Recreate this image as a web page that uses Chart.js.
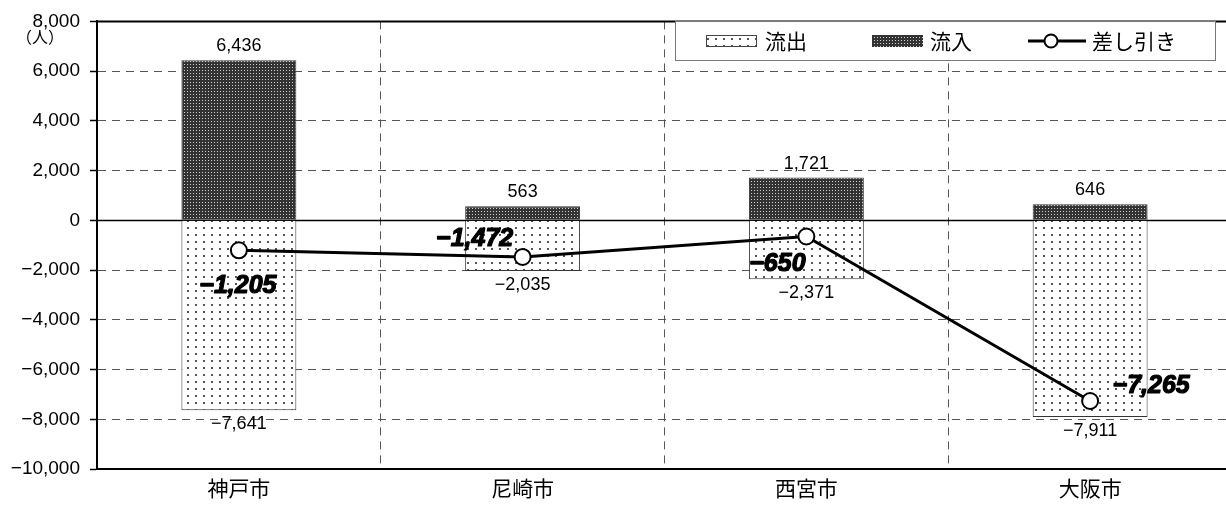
<!DOCTYPE html>
<html>
<head>
<meta charset="utf-8">
<script src="https://cdn.jsdelivr.net/npm/chart.js@4/dist/chart.umd.min.js"></script>
<style>
  html, body { margin: 0; overflow: hidden; background: #fff; width: 1226px; height: 509px; }
  #clip { width: 1226px; height: 509px; overflow: hidden; position: relative; }
  #wrap { width: 1242px; height: 509px; position: absolute; left: 0; top: 0; }
</style>
</head>
<body>
<div id="clip"><div id="wrap"><canvas id="grafico" width="1242" height="509"></canvas></div></div>
<script>
// Datos
const ciudades = ["神戸市", "尼崎市", "西宮市", "大阪市"];
const salida = [-7641, -2035, -2371, -7911];   // 流出
const entrada = [6436, 563, 1721, 646];        // 流入
const neto = [-1205, -1472, -650, -7265];      // 差し引き
const nombres = ["流出", "流入", "差し引き"];
const yMin = -10000, yMax = 8000, yPaso = 2000;

// posiciones de las etiquetas de la línea (desplazamiento respecto al punto)
const offsetNeto = [[-1, 36], [-48, -18], [-29, 28], [61, -15]];

const fuenteNum = "'Liberation Sans', Arial, sans-serif";
const fuenteJp = "'Noto Sans CJK JP', sans-serif";

function fmt(v) {
  const s = Math.abs(v).toLocaleString("en-US");
  return v < 0 ? "\u2212" + s : s;
}

// Patrones de relleno
function patronSalida() {
  const c = document.createElement("canvas");
  c.width = 8; c.height = 7;
  const g = c.getContext("2d");
  g.fillStyle = "#fff"; g.fillRect(0, 0, 8, 7);
  g.fillStyle = "#555";
  g.fillRect(3, 3, 2, 2);
  return g.createPattern(c, "repeat");
}
function patronEntrada() {
  const c = document.createElement("canvas");
  c.width = 3; c.height = 3;
  const g = c.getContext("2d");
  g.fillStyle = "#333"; g.fillRect(0, 0, 3, 3);
  g.fillStyle = "#d0d0d0"; g.fillRect(1, 1, 1, 1);
  return g.createPattern(c, "repeat");
}
const pSalida = patronSalida();
const pEntrada = patronEntrada();

// Plugin: línea cero, borde superior, etiquetas y leyenda
const extras = {
  id: "extras",
  beforeDatasetsDraw(chart) {
    const { ctx, chartArea: a, scales: { y } } = chart;
    const y0 = Math.round(y.getPixelForValue(0)) + 0.5;
    ctx.save();
    ctx.strokeStyle = "#000"; ctx.lineWidth = 1.5;
    ctx.beginPath(); ctx.moveTo(a.left, y0); ctx.lineTo(a.right, y0); ctx.stroke();
    ctx.restore();
  },
  afterDatasetsDraw(chart) {
    const { ctx, chartArea: a } = chart;
    ctx.save();
    // borde superior
    ctx.strokeStyle = "#000"; ctx.lineWidth = 2;
    ctx.beginPath(); ctx.moveTo(a.left, a.top); ctx.lineTo(a.right, a.top); ctx.stroke();

    ctx.fillStyle = "#000";
    ctx.textAlign = "center"; ctx.textBaseline = "middle";
    ctx.font = "18px " + fuenteNum;
    chart.getDatasetMeta(1).data.forEach((el, i) => {
      ctx.fillText(fmt(entrada[i]), el.x, el.y - 14);
    });
    chart.getDatasetMeta(0).data.forEach((el, i) => {
      ctx.fillText(fmt(salida[i]), el.x, el.y + 14);
    });
    ctx.font = "italic bold 25px " + fuenteNum;
    ctx.strokeStyle = "#000"; ctx.lineWidth = 1.2; ctx.lineJoin = "round";
    chart.getDatasetMeta(2).data.forEach((el, i) => {
      const tx = el.x + offsetNeto[i][0], ty = el.y + offsetNeto[i][1];
      ctx.fillText(fmt(neto[i]), tx, ty);
      ctx.strokeText(fmt(neto[i]), tx, ty);
    });

    // unidad
    ctx.font = "16px " + fuenteJp;
    ctx.fillText("（人）", 40, 37);
    ctx.restore();
  },
  afterDraw(chart) {
    const { ctx } = chart;
    ctx.save();
    // leyenda
    ctx.fillStyle = "#fff";
    ctx.fillRect(675, 21, 540, 39);
    ctx.strokeStyle = "#777"; ctx.lineWidth = 1;
    ctx.strokeRect(675.5, 21.5, 540, 39);

    ctx.fillStyle = pSalida;
    ctx.fillRect(706, 35, 51, 12);
    ctx.strokeStyle = "#444";
    ctx.strokeRect(706.5, 35.5, 50, 11);
    ctx.fillStyle = pEntrada;
    ctx.fillRect(872, 35, 51, 12);

    ctx.strokeStyle = "#000"; ctx.lineWidth = 3;
    ctx.beginPath(); ctx.moveTo(1028, 41); ctx.lineTo(1086, 41); ctx.stroke();
    ctx.lineWidth = 2; ctx.fillStyle = "#fff";
    ctx.beginPath(); ctx.arc(1051, 41, 6.5, 0, Math.PI * 2); ctx.fill(); ctx.stroke();

    ctx.fillStyle = "#000";
    ctx.font = "21px " + fuenteJp;
    ctx.textAlign = "left"; ctx.textBaseline = "middle";
    ctx.fillText(nombres[0], 765, 41);
    ctx.fillText(nombres[1], 930, 41);
    ctx.fillText(nombres[2], 1092, 41);
    ctx.restore();
  }
};

const ctxGrafico = document.getElementById("grafico").getContext("2d");
new Chart(ctxGrafico, {
  data: {
    labels: ciudades,
    datasets: [
      {
        type: "bar", label: nombres[0], data: salida,
        backgroundColor: pSalida, borderColor: "#333", borderWidth: 1,
        grouped: false, barPercentage: 1, categoryPercentage: 0.405, order: 2
      },
      {
        type: "bar", label: nombres[1], data: entrada,
        backgroundColor: pEntrada, borderColor: "#333", borderWidth: 1,
        grouped: false, barPercentage: 1, categoryPercentage: 0.405, order: 2
      },
      {
        type: "line", label: nombres[2], data: neto,
        borderColor: "#000", borderWidth: 3, tension: 0,
        pointRadius: 8, pointBorderWidth: 2, pointBackgroundColor: "#fff",
        pointBorderColor: "#000", order: 1
      }
    ]
  },
  options: {
    responsive: false,
    animation: false,
    layout: { padding: { top: 19, right: 0, bottom: 0, left: 0 } },
    plugins: { legend: { display: false }, tooltip: { enabled: false } },
    scales: {
      x: {
        offset: true,
        grid: { color: "#555", lineWidth: 1, drawTicks: false, offset: true },
        border: { display: true, color: "#000", width: 2, dash: [8, 6] },
        ticks: { color: "#000", font: { family: fuenteJp, size: 21 }, padding: 6 },
        afterFit(s) { s.height = 40; }
      },
      y: {
        min: yMin, max: yMax,
        grid: {
          color: (c) => (c.tick && c.tick.value === 0) ? "rgba(0,0,0,0)" : "#555",
          lineWidth: 1, tickLength: 7, tickColor: "#000", tickWidth: 1.5
        },
        border: { display: true, color: "#000", width: 2, dash: [8, 6] },
        ticks: {
          stepSize: yPaso, color: "#000", padding: 10,
          font: { family: fuenteNum, size: 19 },
          callback: (v) => fmt(v)
        },
        afterFit(s) { s.width = 97; }
      }
    }
  },
  plugins: [extras]
});
</script>
</body>
</html>
